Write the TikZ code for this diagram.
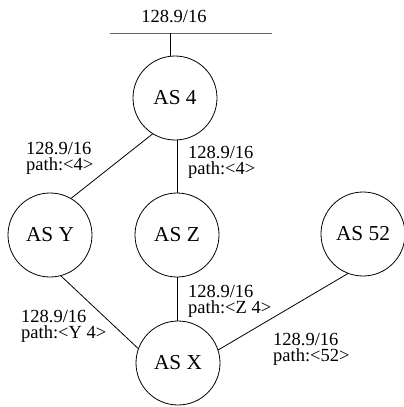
\documentclass[tikz,border=0pt]{standalone}
\usepackage{fontspec}
\setmainfont{Liberation Serif}
\begin{document}
\begin{tikzpicture}[x=1pt,y=-1pt,
  asnode/.style={draw,circle,minimum size=84pt,inner sep=0pt,line width=0.8pt,font=\fontsize{21.3}{24}\selectfont},
  lbl/.style={align=left,anchor=north west,inner sep=0pt,font=\fontsize{18.5}{16}\selectfont},
  link/.style={line width=0.8pt}]
\useasboundingbox (0,0) rectangle (404,407);
% subnet bar
\coordinate (barL) at (110,33);
\coordinate (barR) at (272,33);
\coordinate (barT) at (170,33);
\draw[line width=1pt,black!60] (barL) -- (barR);
\node[inner sep=0pt,font=\fontsize{18.5}{16}\selectfont] (netlbl) at (174,16) {128.9/16};
% AS nodes
\node[asnode] (as4) at (175,98) {AS 4};
\node[asnode] (asy) at (50,235) {AS Y};
\node[asnode] (asz) at (177,235) {AS Z};
\node[asnode] (as52) at (363,234) {AS 52};
\node[asnode] (asx) at (178,363) {AS X};
% connectors
\draw[link] (barT) -- (barT |- as4.north);
\draw[link] (as4.238) -- (asy.60);
\draw[link] (as4.south -| asz.north) -- (asz.north);
\draw[link] (asz.south) -- (asz.south |- asx.north);
\draw[link] (asy.285) -- (asx.160);
\draw[link] (as52.249) -- (asx.18);
% labels
\node[lbl] (l1) at (26,142) {128.9/16\\path:<4>};
\node[lbl] (l2) at (188,146) {128.9/16\\path:<4>};
\node[lbl] (l3) at (188,285) {128.9/16\\path:<Z 4>};
\node[lbl] (l4) at (21,310) {128.9/16\\path:<Y 4>};
\node[lbl] (l5) at (273,333) {128.9/16\\path:<52>};
\end{tikzpicture}
\end{document}
